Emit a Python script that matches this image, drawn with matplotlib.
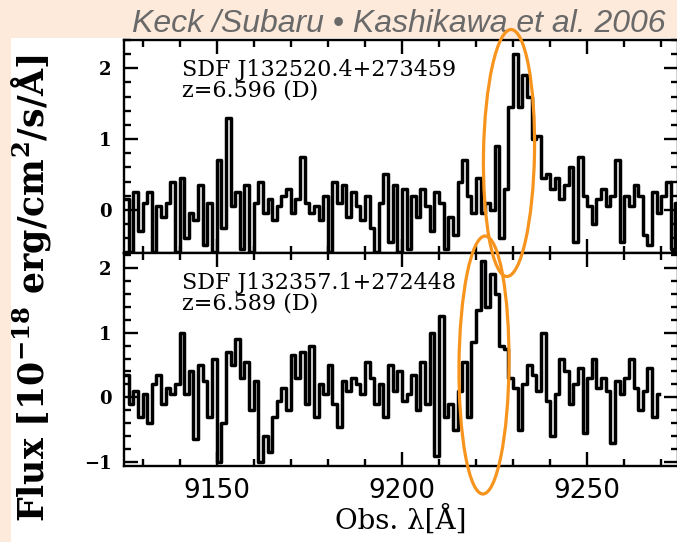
import numpy as np
import matplotlib
matplotlib.use("Agg")
import matplotlib.pyplot as plt
from matplotlib.patches import Ellipse, Rectangle
from matplotlib.ticker import MultipleLocator

# binned spectra, flux in 1e-18 erg/cm2/s/A, bins of 1.25 A starting at 9125 A
flux_top = [0.15, -0.6, 0.25, -0.3, 0.1, 0.25, -0.6, 0.05, -0.1, 0.1,
            0.4, -0.6, 0.45, -0.4, -0.05, -0.15, 0.35, -0.5, 0.1, -0.6,
            0.7, -0.25, 1.3, 0.05, 0.25, -0.55, 0.35, -0.6, 0.1, 0.4,
            -0.05, 0.15, -0.15, 0.05, 0.2, 0.3, -0.05, 0.15, 0.75, 0.1,
            -0.05, 0.05, -0.15, 0.2, -0.6, 0.4, 0.1, 0.35, -0.1, 0.25,
            0.05, -0.15, 0.2, -0.25, -0.6, 0.1, 0.5, -0.45, 0.35, -0.6,
            0.3, -0.55, 0.2, -0.1, 0.3, 0.05, -0.3, 0.25, 0.1, -0.55,
            -0.1, -0.35, 0.4, 0.7, 0.2, -0.05, 0.45, -0.05, 0.1, 0.0,
            0.9, -0.4, 0.3, 1.45, 2.2, 1.45, 1.9, 1.6, 1.0, 1.05,
            0.45, 0.5, 0.3, 0.45, 0.15, 0.35, 0.6, -0.45, 0.75, 0.2,
            0.05, -0.2, 0.15, 0.3, 0.05, 0.2, 0.7, -0.45, 0.2, 0.05,
            0.35, 0.2, -0.35, -0.5, 0.25, -0.05, 0.2, 0.4, -0.55, 0.1]

flux_bot = [0.35, -0.1, 0.1, -0.3, 0.05, -0.4, 0.2, 0.35, -0.1, 0.15,
            0.05, 0.2, 1.0, 0.05, 0.4, -0.65, 0.5, 0.25, -0.3, 0.6,
            -1.0, -0.4, 0.7, 0.5, 0.9, 0.3, 0.55, -0.2, 0.25, -1.0,
            -0.6, -0.85, -0.3, -0.05, 0.15, -0.2, 0.65, 0.3, 0.7, -0.1,
            0.8, -0.3, 0.2, 0.05, 0.5, -0.1, -0.45, 0.25, 0.1, 0.3,
            0.2, 0.05, 0.55, 0.3, -0.1, 0.2, -0.3, 0.5, 0.1, 0.4,
            -0.05, 0.05, 0.35, -0.2, 0.55, -0.1, 1.0, -0.9, 1.25, -0.3,
            -0.1, -0.5, 0.1, 0.55, -0.3, 0.85, 1.35, 2.1, 1.4, 1.9,
            1.6, 0.8, 0.75, 0.3, 0.15, -0.5, 0.2, 0.5, 0.35, 0.1,
            1.0, -0.05, -0.6, 0.05, 0.6, 0.4, -0.1, 0.2, 0.45, -0.55,
            0.3, 0.6, 0.15, 0.3, 0.1, -0.7, 0.25, 0.05, 0.3, 0.6,
            0.15, -0.2, 0.1, 0.45, -0.3, 0.05]

wave_start = 9125.625
bin_width = 1.25

names = ["SDF J132520.4+273459", "SDF J132357.1+272448"]
redshifts = ["z=6.596 (D)", "z=6.589 (D)"]
ylims = [(-0.61, 2.40), (-1.06, 2.23)]
xlim = (9125, 9274.5)

peach = "#fdeadb"
orange = "#f7941e"

fig = plt.figure(figsize=(6.77, 5.42), dpi=100, facecolor="white")
fig.patches.append(Rectangle((0, 1 - 38 / 542), 1, 38 / 542, transform=fig.transFigure,
                             facecolor=peach, edgecolor="none", zorder=-1))
fig.patches.append(Rectangle((0, 0), 11 / 677, 1, transform=fig.transFigure,
                             facecolor=peach, edgecolor="none", zorder=-1))

ax_top = fig.add_axes([124 / 677, 1 - 253 / 542, 554 / 677, 213 / 542])
ax_bot = fig.add_axes([124 / 677, 1 - 466 / 542, 554 / 677, 213 / 542])

for ax, flux, name, zlab, ylim in zip([ax_top, ax_bot], [flux_top, flux_bot], names, redshifts, ylims):
    wave = wave_start + bin_width * np.arange(len(flux))
    ax.step(wave, flux, where="mid", color="black", lw=2.5)
    ax.set_xlim(*xlim)
    ax.set_ylim(*ylim)
    ax.xaxis.set_major_locator(MultipleLocator(50))
    ax.xaxis.set_minor_locator(MultipleLocator(10))
    ax.yaxis.set_major_locator(MultipleLocator(1))
    ax.yaxis.set_minor_locator(MultipleLocator(0.2))
    ax.tick_params(which="both", direction="in", top=True, right=True, width=1.7)
    ax.tick_params(which="major", length=10)
    ax.tick_params(which="minor", length=5)
    ax.tick_params(axis="y", pad=9)
    ax.tick_params(axis="x", pad=9)
    for s in ax.spines.values():
        s.set_linewidth(1.7)
    for lab in ax.get_yticklabels():
        lab.set_fontfamily("DejaVu Serif")
        lab.set_fontweight("bold")
        lab.set_fontsize(13)
    for lab in ax.get_xticklabels():
        lab.set_fontfamily("DejaVu Sans")
        lab.set_fontsize(19)
    ax.text(0.105, 0.83, name, transform=ax.transAxes, family="DejaVu Serif", fontsize=16, va="baseline")
    ax.text(0.105, 0.736, zlab, transform=ax.transAxes, family="DejaVu Serif", fontsize=16, va="baseline")

ax_top.tick_params(labelbottom=False)
ax_bot.set_xlabel("Obs. λ[Å]", family="DejaVu Serif", fontsize=20, labelpad=0)

plt.rcParams["mathtext.fontset"] = "dejavuserif"
plt.rcParams["mathtext.bf"] = "DejaVu Serif:bold"
fig.text(31 / 677, 1 - 288 / 542, r"Flux [10$^{\mathbf{-18}}$ erg/cm$^{\mathbf{2}}$/s/Å]", rotation=90,
         ha="center", va="center", family="DejaVu Serif", fontweight="bold", fontsize=25)

fig.text(666 / 677, 1 - 32 / 542, "Keck /Subaru • Kashikawa et al. 2006", ha="right", va="baseline",
         family="Liberation Sans", style="italic", fontsize=23, color="#696969")

# orange rings around the Lyman alpha lines, in pixel units
over = fig.add_axes([0, 0, 1, 1], zorder=5)
over.set_xlim(0, 677)
over.set_ylim(542, 0)
over.axis("off")
over.patch.set_alpha(0)
over.add_patch(Ellipse((509, 153), 51, 247, angle=1, fill=False, edgecolor=orange, lw=2.3))
over.add_patch(Ellipse((484, 365), 50, 258, angle=0.5, fill=False, edgecolor=orange, lw=2.3))

plt.savefig("out.png", dpi=100, facecolor=fig.get_facecolor())
